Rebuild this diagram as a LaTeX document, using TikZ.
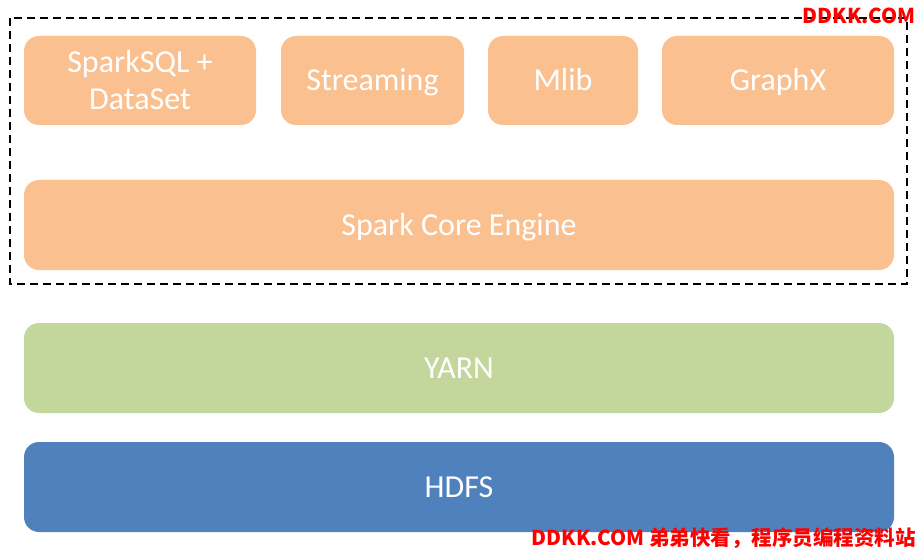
\documentclass[tikz,border=0pt]{standalone}
\usepackage{fontspec}
\setmainfont{Carlito}
\newfontfamily\cjkfont{Noto Sans CJK SC}
\definecolor{sparkorange}{HTML}{FAC090}
\definecolor{yarngreen}{HTML}{C3D69B}
\definecolor{hdfsblue}{HTML}{4F81BD}
\begin{document}
\begin{tikzpicture}[x=1pt,y=-1pt,
    layer/.style={fill=#1, rounded corners=15pt, text=white, inner sep=0pt,
        align=center, font=\fontsize{32}{37}\selectfont, minimum height=90pt,
        text height=21pt, text depth=0pt},
    watermark/.style={text=red, inner sep=0pt, anchor=base east,
        font=\cjkfont\bfseries\fontsize{20.5}{24}\selectfont}]
    \useasboundingbox (0,0) rectangle (918,548);
    % Spark stack
    \draw[line width=2pt, dash pattern=on 8pt off 5pt] (10,18) rectangle (907,284);
    \node[layer=sparkorange, minimum width=232pt, minimum height=89pt, text height=58pt] (sql) at (140,80.5) {SparkSQL +\\DataSet};
    \node[layer=sparkorange, minimum width=183pt, minimum height=89pt] (streaming) at (372.5,80.5) {Streaming};
    \node[layer=sparkorange, minimum width=150pt, minimum height=89pt] (mlib) at (563,80.5) {Mlib};
    \node[layer=sparkorange, minimum width=232pt, minimum height=89pt] (graphx) at (778,80.5) {GraphX};
    \node[layer=sparkorange, minimum width=870pt] (core) at (459,225) {Spark Core Engine};
    % Resource manager and storage
    \node[layer=yarngreen, minimum width=870pt] (yarn) at (459,368) {YARN};
    \node[layer=hdfsblue, minimum width=870pt] (hdfs) at (459,487) {HDFS};
    % Watermarks
    \node[watermark] (wmtop) at (916,24) {DDKK.COM};
    \node[watermark] (wmbottom) at (916,545) {DDKK.COM 弟弟快看，程序员编程资料站};
\end{tikzpicture}
\end{document}
